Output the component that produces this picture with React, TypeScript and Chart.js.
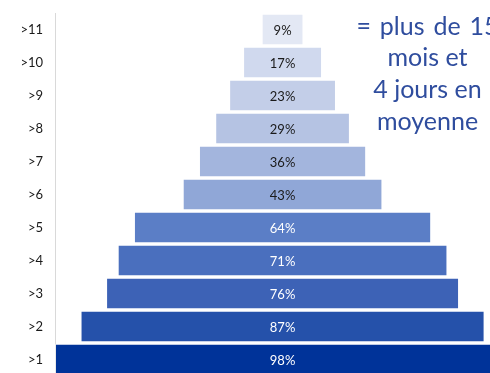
import React, { useEffect, useRef } from "react";
import { Chart, registerables } from "chart.js";

Chart.register(...registerables);

const categories = [">11", ">10", ">9", ">8", ">7", ">6", ">5", ">4", ">3", ">2", ">1"];
const values = [9, 17, 23, 29, 36, 43, 64, 71, 76, 87, 98];
const barColors = [
  "#e3e8f4", "#d0d9ee", "#c3cee8", "#b5c3e3", "#a3b5dd", "#90a7d7",
  "#5b7ec6", "#4a6fbe", "#3d62b6", "#2551aa", "#003399",
];
const labelColors = [
  "#1a1a1a", "#1a1a1a", "#1a1a1a", "#1a1a1a", "#1a1a1a", "#1a1a1a",
  "#ffffff", "#ffffff", "#ffffff", "#ffffff", "#ffffff",
];
const noteLines = ["= plus de 15", "mois et", "4 jours en", "moyenne"];

const CANVAS_W = 538;
const CANVAS_H = 376;

export default function App() {
  const ref = useRef<HTMLCanvasElement | null>(null);

  useEffect(() => {
    const canvas = ref.current;
    if (!canvas) return;

    const valueLabels = {
      id: "valueLabels",
      afterDatasetsDraw(chart: any) {
        const ctx = chart.ctx;
        const meta = chart.getDatasetMeta(0);
        ctx.save();
        ctx.font = "13px Lato, 'Open Sans', sans-serif";
        ctx.textAlign = "center";
        ctx.textBaseline = "middle";
        meta.data.forEach((el: any, i: number) => {
          const p = el.getProps(["x", "y", "base"], true);
          const cx = (p.x + p.base) / 2;
          ctx.fillStyle = labelColors[i];
          ctx.fillText(values[i] + "%", cx, p.y + 1);
        });
        ctx.restore();
      },
    };

    const note = {
      id: "note",
      afterDraw(chart: any) {
        const ctx = chart.ctx;
        ctx.save();
        ctx.font = "25px Lato, 'Open Sans', sans-serif";
        ctx.fillStyle = "#2f4d9e";
        ctx.textAlign = "center";
        ctx.textBaseline = "middle";
        const ys = [27, 58, 90, 122];
        noteLines.forEach((t, i) => {
          (ctx as any).wordSpacing = i === 0 ? "2.5px" : "0px";
          ctx.fillText(t, 427.5, ys[i]);
        });
        ctx.restore();
      },
    };

    const chart = new Chart(canvas, {
      type: "bar",
      data: {
        labels: categories,
        datasets: [
          {
            data: values.map((v) => [50 - v / 2, 50 + v / 2]) as any,
            backgroundColor: barColors,
            borderColor: "rgba(255,255,255,0.45)",
            borderWidth: 1,
            borderSkipped: false,
            categoryPercentage: 1,
            barPercentage: 0.95,
          },
        ],
      },
      options: {
        indexAxis: "y",
        responsive: false,
        animation: false,
        devicePixelRatio: 1,
        layout: { padding: { top: 13, bottom: 0, left: 0, right: 0 } },
        plugins: { legend: { display: false }, tooltip: { enabled: false } },
        scales: {
          x: { display: false, min: 1, max: 105 },
          y: {
            afterFit(s: any) {
              s.width = 55;
              s.paddingTop = 0;
              s.paddingBottom = 0;
            },
            grid: { drawOnChartArea: false, drawTicks: false },
            border: { display: true, color: "#d9d9d9", width: 1 },
            ticks: {
              padding: 12,
              color: "#1a1a1a",
              font: { family: "Lato, 'Open Sans', sans-serif", size: 13 },
            },
          },
        },
      },
      plugins: [valueLabels, note],
    });

    return () => chart.destroy();
  }, []);

  return (
    <div
      style={{
        position: "fixed",
        left: 0,
        top: 0,
        width: 490,
        height: 373,
        overflow: "hidden",
        background: "#ffffff",
      }}
    >
      <canvas
        ref={ref}
        width={CANVAS_W}
        height={CANVAS_H}
        style={{ width: CANVAS_W, height: CANVAS_H, display: "block" }}
      />
    </div>
  );
}
